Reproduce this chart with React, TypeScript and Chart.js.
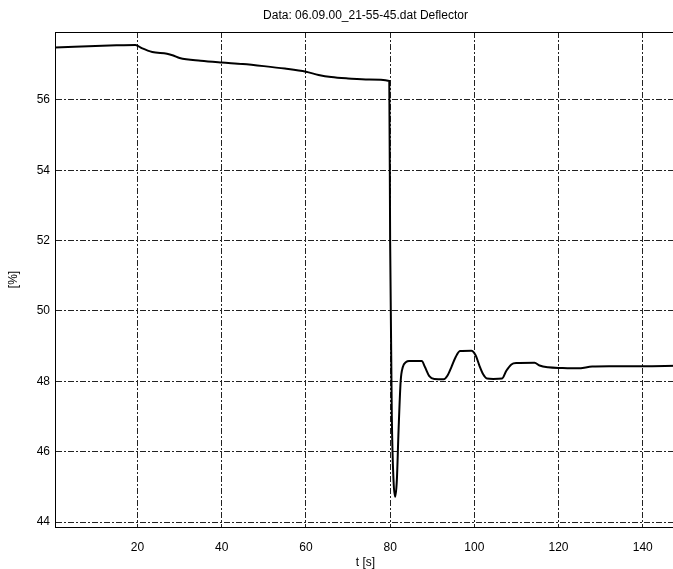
import React, { useEffect, useRef } from "react";
import { Chart, registerables } from "chart.js";

Chart.register(...registerables);

const titleText = "Data: 06.09.00_21-55-45.dat Deflector";
const xLabel = "t [s]";
const yLabel = "[%]";

const xTicks = [20, 40, 60, 80, 100, 120, 140];
const yTicks = [44, 46, 48, 50, 52, 54, 56];

const timeS = [
  0.4, 5, 10, 15, 19.5, 21, 23.5, 27, 28.5, 30, 35, 40, 45, 50, 55, 60, 63, 66, 70, 75, 79.8,
  80.0, 80.4, 80.8, 81.2, 81.6, 82.0, 82.5, 83.0, 83.8, 84.5, 87.5, 88.3, 89.3, 90.5, 92.7,
  93.6, 94.6, 95.6, 96.6, 99.3, 100.3, 101.2, 102.1, 103.0, 104.5, 106.6, 107.6, 108.8, 110,
  114.3, 115.5, 117.5, 121, 124.5, 128, 132, 140, 147.9,
];
const deflector = [
  57.49, 57.51, 57.53, 57.55, 57.56, 57.47, 57.36, 57.31, 57.26, 57.19, 57.11, 57.06, 57.02,
  56.96, 56.89, 56.8, 56.71, 56.65, 56.61, 56.58, 56.54,
  52.0, 47.0, 45.2, 44.72, 45.2, 46.6, 48.0, 48.4, 48.55, 48.58, 48.58, 48.4, 48.15, 48.07,
  48.06, 48.16, 48.42, 48.7, 48.86, 48.87, 48.74, 48.45, 48.2, 48.08, 48.07, 48.08, 48.3,
  48.48, 48.52, 48.53, 48.45, 48.4, 48.38, 48.37, 48.42, 48.43, 48.43, 48.44,
];

const FONT = "'Liberation Sans', Arial, Helvetica, sans-serif";

const frame = {
  id: "frame",
  afterDraw(chart: any) {
    const { ctx, chartArea } = chart;
    ctx.save();
    ctx.strokeStyle = "#000";
    ctx.lineWidth = 1;
    ctx.strokeRect(
      Math.round(chartArea.left) + 0.5,
      Math.round(chartArea.top) + 0.5,
      chartArea.right - chartArea.left,
      chartArea.bottom - chartArea.top
    );
    ctx.restore();
  },
};

export default function App() {
  const ref = useRef<HTMLCanvasElement | null>(null);

  useEffect(() => {
    if (!ref.current) return;
    const chart = new Chart(ref.current, {
      type: "line",
      data: {
        datasets: [
          {
            data: timeS.map((t, i) => ({ x: t, y: deflector[i] })),
            borderColor: "#000",
            borderWidth: 2,
            pointRadius: 0,
            cubicInterpolationMode: "monotone",
            fill: false,
          },
        ],
      },
      options: {
        animation: false,
        responsive: false,
        layout: { padding: 0 },
        plugins: {
          legend: { display: false },
          tooltip: { enabled: false },
          title: {
            display: true,
            text: titleText,
            fullSize: false,
            color: "#000",
            font: { family: FONT, size: 12, weight: "normal", lineHeight: 1.2 },
            padding: { top: 8, bottom: 9.6 },
          },
        },
        scales: {
          x: {
            type: "linear",
            min: 0.4,
            max: 147.9,
            afterBuildTicks: (s: any) => {
              s.ticks = xTicks.map((v) => ({ value: v }));
            },
            afterFit: (s: any) => {
              s.height = 42;
            },
            grid: {
              color: "#222",
              lineWidth: 1,
              drawTicks: false,
            },
            border: { display: true, color: "#000", width: 1, dash: [6, 2, 2, 2] },
            ticks: {
              color: "#000",
              font: { family: FONT, size: 12 },
              padding: 13,
              maxRotation: 0,
            },
            title: {
              display: true,
              text: xLabel,
              color: "#000",
              font: { family: FONT, size: 12, lineHeight: 1 },
              padding: { top: 0, bottom: 0 },
            },
          },
          y: {
            type: "linear",
            min: 43.86,
            max: 57.93,
            afterBuildTicks: (s: any) => {
              s.ticks = yTicks.map((v) => ({ value: v }));
            },
            afterFit: (s: any) => {
              s.width = 55;
            },
            grid: {
              color: "#222",
              lineWidth: 1,
              drawTicks: false,
            },
            border: { display: true, color: "#000", width: 1, dash: [6, 2, 2, 2] },
            ticks: {
              color: "#000",
              font: { family: FONT, size: 12 },
              padding: 5,
            },
            title: {
              display: true,
              text: yLabel,
              color: "#000",
              font: { family: FONT, size: 12, lineHeight: 1.2 },
              padding: { top: 6, bottom: 0 },
            },
          },
        },
      },
      plugins: [frame],
    } as any);
    return () => chart.destroy();
  }, []);

  return (
    <div
      style={{
        position: "fixed",
        left: 0,
        top: 0,
        width: 673,
        height: 569,
        overflow: "hidden",
        background: "#fff",
      }}
    >
      <canvas ref={ref} width={676} height={569} style={{ display: "block", width: 676, height: 569 }} />
    </div>
  );
}
